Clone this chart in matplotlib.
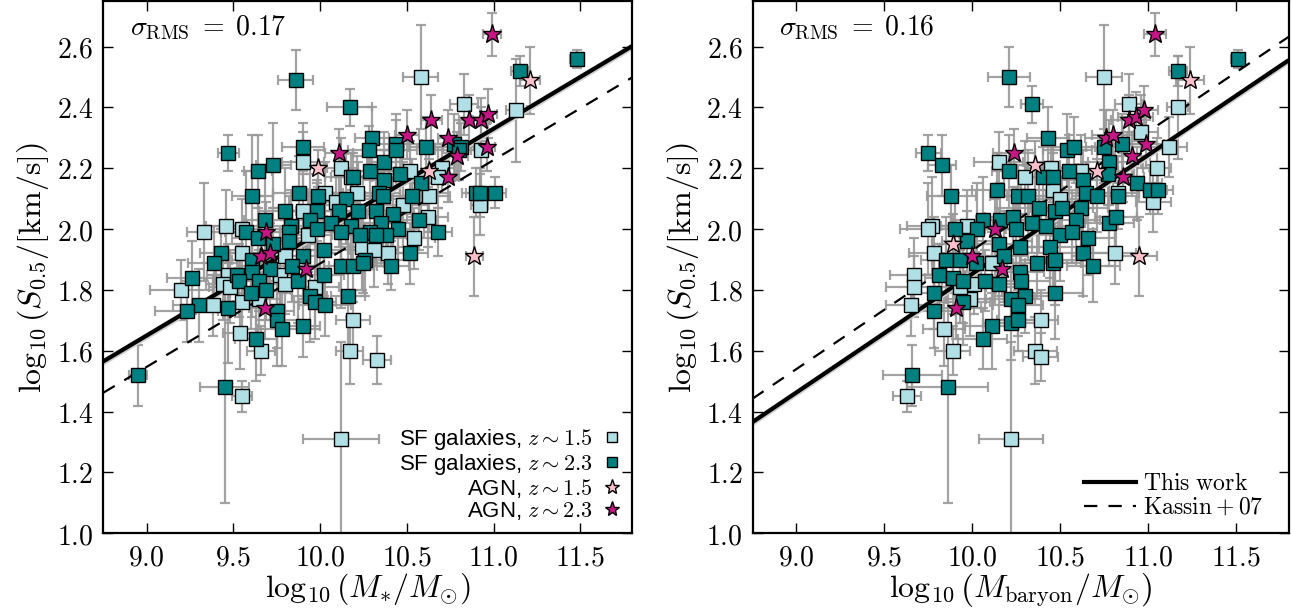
import matplotlib
matplotlib.use("Agg")
import matplotlib.pyplot as plt
from matplotlib.ticker import FuncFormatter, MultipleLocator
from matplotlib.lines import Line2D
import numpy as np

plt.rcParams['mathtext.fontset'] = 'cm'
plt.rcParams['font.family'] = ['DejaVu Sans']

# ---------------- Left panel: stellar mass ----------------
L_sf23_x = [9.86, 10.17, 9.47, 9.90, 9.73, 9.64, 10.30, 10.28, 10.29, 10.37, 10.44, 10.44, 10.61, 10.46, 10.37, 10.19, 10.58, 10.77, 10.81, 10.80,
            10.90, 10.92, 11.01, 11.15, 11.48, 9.61, 9.88, 9.99, 10.15, 10.34, 10.36, 10.53, 9.80, 9.98, 10.11, 10.22, 10.32, 10.42, 10.57, 9.68,
            9.83, 9.94, 10.06, 10.18, 10.35, 10.45, 10.68, 9.57, 9.82, 9.98, 10.12, 10.29, 10.38, 9.64, 9.73, 9.82, 10.02, 10.23, 10.32, 9.43,
            9.39, 9.61, 9.90, 10.26, 10.52, 9.71, 9.84, 10.02, 10.12, 10.19, 10.25, 10.41, 9.26, 9.52, 9.61, 9.53, 9.65, 9.87, 9.60, 9.69,
            9.94, 9.97, 10.03, 10.16, 9.30, 9.23, 9.47, 9.75, 9.75, 9.78, 9.90, 9.63, 8.95, 9.45]
L_sf23_y = [2.49, 2.40, 2.25, 2.27, 2.21, 2.19, 2.30, 2.26, 2.19, 2.22, 2.28, 2.26, 2.27, 2.18, 2.16, 2.17, 2.15, 2.28, 2.27, 2.26,
            2.12, 2.12, 2.12, 2.52, 2.56, 2.11, 2.12, 2.11, 2.10, 2.12, 2.11, 2.11, 2.06, 2.06, 2.06, 2.06, 2.06, 2.05, 2.03, 2.03,
            2.01, 2.03, 2.02, 2.01, 2.02, 2.00, 1.99, 1.99, 1.99, 2.00, 1.99, 1.99, 1.98, 1.97, 1.95, 1.96, 1.93, 1.98, 1.98, 1.92,
            1.89, 1.90, 1.91, 1.90, 1.92, 1.87, 1.88, 1.85, 1.88, 1.88, 1.89, 1.88, 1.84, 1.85, 1.86, 1.83, 1.83, 1.83, 1.79, 1.80,
            1.78, 1.76, 1.75, 1.78, 1.75, 1.73, 1.74, 1.73, 1.70, 1.67, 1.68, 1.64, 1.52, 1.48]
L_sf23_xe = [0.10, 0.13, 0.06, 0.12, 0.10, 0.08, 0.10, 0.12, 0.14, 0.10, 0.15, 0.12, 0.10, 0.14, 0.12, 0.16, 0.10, 0.12, 0.10, 0.14,
             0.08, 0.08, 0.06, 0.05, 0.04, 0.12, 0.15, 0.14, 0.18, 0.12, 0.10, 0.12, 0.15, 0.12, 0.14, 0.10, 0.12, 0.15, 0.10, 0.12,
             0.14, 0.10, 0.12, 0.16, 0.10, 0.12, 0.08, 0.12, 0.10, 0.14, 0.12, 0.10, 0.12, 0.15, 0.12, 0.10, 0.14, 0.12, 0.10, 0.12,
             0.15, 0.12, 0.10, 0.14, 0.10, 0.12, 0.16, 0.12, 0.10, 0.14, 0.12, 0.10, 0.14, 0.12, 0.10, 0.15, 0.12, 0.10, 0.12, 0.14,
             0.10, 0.12, 0.15, 0.10, 0.15, 0.18, 0.12, 0.10, 0.12, 0.14, 0.10, 0.12, 0.05, 0.14]
L_sf23_ye = [0.10, 0.06, 0.06, 0.08, 0.14, 0.12, 0.10, 0.08, 0.12, 0.10, 0.08, 0.12, 0.10, 0.09, 0.10, 0.08, 0.12, 0.10, 0.08, 0.10,
             0.08, 0.08, 0.05, 0.05, 0.03, 0.20, 0.12, 0.10, 0.15, 0.10, 0.08, 0.12, 0.14, 0.10, 0.12, 0.16, 0.10, 0.12, 0.10, 0.18,
             0.12, 0.15, 0.10, 0.12, 0.14, 0.10, 0.08, 0.20, 0.12, 0.15, 0.10, 0.12, 0.08, 0.14, 0.12, 0.10, 0.15, 0.12, 0.10, 0.08,
             0.12, 0.10, 0.14, 0.12, 0.10, 0.15, 0.12, 0.10, 0.14, 0.12, 0.10, 0.08, 0.12, 0.10, 0.15, 0.12, 0.10, 0.14, 0.12, 0.10,
             0.15, 0.12, 0.10, 0.20, 0.12, 0.10, 0.18, 0.12, 0.15, 0.12, 0.10, 0.14, 0.10, 0.38]

L_sf15_x = [10.58, 10.83, 11.13, 9.90, 10.12, 10.18, 10.21, 10.03, 10.52, 10.70, 10.68, 10.63, 10.48, 10.92, 10.93, 10.09, 9.90, 10.62, 9.33, 9.46,
            9.55, 9.93, 10.54, 10.39, 10.24, 10.31, 9.55, 9.80, 9.77, 9.47, 9.44, 9.20, 9.48, 9.80, 9.97, 9.38, 9.55, 9.65, 9.54, 9.66,
            9.55, 10.19, 10.17, 10.33, 10.12]
L_sf15_y = [2.50, 2.41, 2.39, 2.22, 2.20, 2.17, 2.12, 2.12, 2.19, 2.20, 2.17, 2.11, 2.08, 2.08, 2.26, 2.09, 2.06, 2.04, 1.99, 2.01,
            2.00, 1.98, 1.97, 1.92, 1.94, 1.93, 1.92, 1.91, 1.85, 1.85, 1.82, 1.80, 1.81, 1.82, 1.81, 1.75, 1.76, 1.77, 1.66, 1.60,
            1.45, 1.70, 1.60, 1.57, 1.31]
L_sf15_xe = [0.10, 0.08, 0.06, 0.12, 0.10, 0.12, 0.14, 0.10, 0.12, 0.08, 0.10, 0.12, 0.14, 0.05, 0.06, 0.12, 0.10, 0.12, 0.10, 0.12,
             0.10, 0.14, 0.12, 0.10, 0.12, 0.14, 0.10, 0.12, 0.15, 0.12, 0.10, 0.18, 0.12, 0.10, 0.14, 0.12, 0.10, 0.12, 0.10, 0.08,
             0.06, 0.10, 0.08, 0.08, 0.22]
L_sf15_ye = [0.17, 0.10, 0.17, 0.10, 0.10, 0.08, 0.12, 0.10, 0.10, 0.08, 0.10, 0.12, 0.14, 0.10, 0.14, 0.10, 0.12, 0.10, 0.16, 0.12,
             0.10, 0.12, 0.10, 0.10, 0.14, 0.12, 0.10, 0.12, 0.15, 0.10, 0.12, 0.10, 0.12, 0.10, 0.14, 0.10, 0.12, 0.10, 0.12, 0.08,
             0.05, 0.10, 0.11, 0.08, 0.32]

L_agn15_x = [11.21, 9.99, 10.63, 10.89]
L_agn15_y = [2.49, 2.20, 2.19, 1.91]
L_agn15_xe = [0.06, 0.05, 0.08, 0.05]
L_agn15_ye = [0.11, 0.06, 0.08, 0.13]

L_agn23_x = [10.99, 10.64, 10.86, 10.93, 10.97, 10.50, 10.74, 10.96, 10.79, 10.11, 10.74, 9.69, 9.66, 9.71, 9.92, 9.68]
L_agn23_y = [2.64, 2.36, 2.36, 2.36, 2.38, 2.31, 2.30, 2.27, 2.24, 2.25, 2.17, 1.99, 1.91, 1.92, 1.87, 1.74]
L_agn23_xe = [0.05, 0.06, 0.06, 0.05, 0.05, 0.07, 0.06, 0.05, 0.06, 0.08, 0.06, 0.08, 0.08, 0.07, 0.08, 0.08]
L_agn23_ye = [0.07, 0.08, 0.08, 0.07, 0.08, 0.08, 0.09, 0.08, 0.08, 0.08, 0.08, 0.10, 0.10, 0.09, 0.10, 0.10]

# ---------------- Right panel: baryonic mass ----------------
R_sf23_x = [10.21, 10.34, 9.75, 9.83, 9.88, 10.43, 10.54, 10.58, 10.21, 10.40, 10.46, 10.55, 10.63, 10.78, 10.77, 10.75, 10.85, 10.94, 11.01, 11.06,
            11.17, 11.51, 10.14, 10.26, 10.32, 10.65, 10.71, 10.83, 10.06, 10.16, 10.23, 10.38, 10.47, 10.51, 10.62, 10.59, 10.03, 9.97, 9.90, 10.25,
            10.34, 10.42, 10.50, 10.57, 10.66, 10.78, 10.82, 10.27, 10.15, 10.44, 10.63, 10.37, 10.46, 10.47, 10.69, 9.85, 9.93, 10.02, 10.18, 9.81,
            9.89, 9.95, 10.07, 10.15, 10.27, 10.28, 9.78, 9.95, 10.22, 10.30, 10.47, 10.26, 9.78, 10.11, 10.06, 10.22, 10.26, 9.66, 9.86]
R_sf23_y = [2.50, 2.41, 2.25, 2.21, 2.11, 2.30, 2.26, 2.27, 2.19, 2.17, 2.17, 2.19, 2.16, 2.22, 2.18, 2.27, 2.28, 2.15, 2.13, 2.13,
            2.52, 2.56, 2.13, 2.11, 2.11, 2.12, 2.11, 2.11, 2.03, 2.03, 2.04, 2.07, 2.06, 2.07, 2.07, 2.03, 2.00, 1.96, 2.00, 2.00,
            2.02, 2.01, 1.98, 1.99, 1.97, 2.02, 2.04, 1.94, 1.95, 1.94, 1.92, 1.89, 1.89, 1.90, 1.88, 1.90, 1.90, 1.89, 1.91, 1.85,
            1.84, 1.83, 1.83, 1.82, 1.86, 1.83, 1.79, 1.76, 1.77, 1.78, 1.79, 1.75, 1.73, 1.68, 1.64, 1.69, 1.70, 1.52, 1.48]
R_sf23_xe = [0.12, 0.06, 0.07, 0.08, 0.14, 0.12, 0.14, 0.12, 0.10, 0.14, 0.12, 0.16, 0.14, 0.12, 0.15, 0.10, 0.12, 0.14, 0.10, 0.08,
             0.05, 0.04, 0.14, 0.16, 0.12, 0.15, 0.14, 0.12, 0.18, 0.14, 0.16, 0.14, 0.12, 0.18, 0.15, 0.14, 0.16, 0.14, 0.12, 0.18,
             0.15, 0.14, 0.16, 0.12, 0.15, 0.14, 0.12, 0.16, 0.14, 0.18, 0.15, 0.14, 0.16, 0.12, 0.15, 0.14, 0.16, 0.18, 0.14, 0.15,
             0.16, 0.14, 0.18, 0.15, 0.14, 0.16, 0.12, 0.15, 0.14, 0.18, 0.16, 0.14, 0.12, 0.15, 0.14, 0.16, 0.12, 0.17, 0.23]
R_sf23_ye = [0.10, 0.06, 0.06, 0.10, 0.10, 0.10, 0.12, 0.10, 0.12, 0.10, 0.08, 0.12, 0.10, 0.14, 0.10, 0.12, 0.10, 0.12, 0.08, 0.08,
             0.05, 0.03, 0.12, 0.10, 0.15, 0.10, 0.12, 0.08, 0.14, 0.12, 0.10, 0.15, 0.12, 0.10, 0.14, 0.12, 0.15, 0.10, 0.12, 0.14,
             0.10, 0.12, 0.15, 0.10, 0.12, 0.14, 0.10, 0.15, 0.12, 0.10, 0.14, 0.12, 0.10, 0.15, 0.12, 0.14, 0.10, 0.12, 0.15, 0.10,
             0.12, 0.14, 0.10, 0.12, 0.15, 0.10, 0.12, 0.14, 0.10, 0.12, 0.15, 0.10, 0.12, 0.14, 0.10, 0.12, 0.10, 0.10, 0.38]

R_sf15_x = [10.75, 10.89, 11.17, 10.96, 11.12, 11.05, 11.03, 10.15, 10.30, 10.45, 10.46, 10.62, 10.50, 10.83, 9.77, 9.75, 9.97, 9.78, 10.11, 10.81,
            9.67, 9.67, 9.65, 9.84, 9.89, 10.39, 10.36, 10.39, 9.63, 10.22, 9.99, 10.01, 9.93]
R_sf15_y = [2.50, 2.41, 2.40, 2.32, 2.27, 2.20, 2.09, 2.22, 2.17, 2.20, 2.13, 2.19, 2.10, 2.12, 2.01, 2.00, 2.01, 1.92, 1.89, 1.92,
            1.85, 1.81, 1.75, 1.67, 1.60, 1.70, 1.60, 1.58, 1.45, 1.31, 1.77, 1.82, 1.81]
R_sf15_xe = [0.10, 0.08, 0.06, 0.10, 0.10, 0.08, 0.10, 0.14, 0.12, 0.15, 0.14, 0.12, 0.15, 0.12, 0.14, 0.16, 0.15, 0.14, 0.16, 0.12,
             0.14, 0.16, 0.14, 0.12, 0.10, 0.10, 0.12, 0.10, 0.08, 0.18, 0.14, 0.16, 0.15]
R_sf15_ye = [0.17, 0.10, 0.17, 0.12, 0.10, 0.10, 0.10, 0.10, 0.12, 0.10, 0.14, 0.12, 0.10, 0.12, 0.16, 0.15, 0.12, 0.12, 0.10, 0.10,
             0.12, 0.10, 0.10, 0.12, 0.08, 0.10, 0.11, 0.08, 0.05, 0.32, 0.12, 0.10, 0.12]

R_agn15_x = [11.24, 9.89, 10.36, 10.71, 10.95]
R_agn15_y = [2.49, 1.95, 2.21, 2.19, 1.91]
R_agn15_xe = [0.08, 0.12, 0.14, 0.12, 0.10]
R_agn15_ye = [0.11, 0.10, 0.08, 0.08, 0.13]

R_agn23_x = [11.04, 10.89, 10.93, 10.98, 10.76, 10.80, 10.99, 10.91, 10.86, 10.24, 10.13, 10.00, 10.17, 9.91]
R_agn23_y = [2.64, 2.36, 2.37, 2.39, 2.30, 2.31, 2.28, 2.24, 2.17, 2.25, 2.00, 1.91, 1.87, 1.74]
R_agn23_xe = [0.06, 0.10, 0.10, 0.08, 0.12, 0.12, 0.10, 0.10, 0.12, 0.12, 0.14, 0.14, 0.12, 0.14]
R_agn23_ye = [0.07, 0.08, 0.08, 0.08, 0.09, 0.08, 0.08, 0.08, 0.08, 0.08, 0.10, 0.10, 0.09, 0.10]

# Relations: slope, value at log M = 10
left_fit = (0.34, 1.99)
left_kassin = (0.34, 1.887)
right_fit = (0.39, 1.853)
right_kassin = (0.39, 1.93)
sigma_rms = ["0.17", "0.16"]

XLIM = (8.75, 11.8)
YLIM = (1.0, 2.75)

C_SF15 = '#b0e0e6'
C_SF23 = '#008080'
C_AGN15 = '#ffc0cb'
C_AGN23 = '#c71585'
C_ERR = '#999999'

fig = plt.figure(figsize=(12.91, 6.11), dpi=100)
axL = fig.add_axes([0.0800, 0.1272, 0.4098, 0.8712])
axR = fig.add_axes([0.5829, 0.1272, 0.4152, 0.8712])

fmt = FuncFormatter(lambda v, p: r'$%.1f$' % v)


def panel(ax, groups, fit, kassin, sig, xlabel):
    for (x, y, xe, ye, c, m, ms) in groups:
        ax.errorbar(x, y, xerr=xe, yerr=ye, fmt='none', ecolor=C_ERR, elinewidth=1.6,
                    capsize=3.5, capthick=1.6, alpha=0.9, zorder=1)
    xx = np.array(XLIM)
    ax.fill_between(xx, fit[0] * (xx - 10) + fit[1] - 0.012, fit[0] * (xx - 10) + fit[1] + 0.012,
                    color='#d0d0d0', lw=0, zorder=1.5)
    ax.plot(xx, fit[0] * (xx - 10) + fit[1], color='black', lw=3.0, zorder=2, solid_capstyle='butt')
    ax.plot(xx, kassin[0] * (xx - 10) + kassin[1], color='black', lw=1.6, ls=(0, (6, 5)), zorder=2)
    for (x, y, xe, ye, c, m, ms) in groups:
        ax.plot(x, y, ls='none', marker=m, ms=ms, mfc=c, mec='black', mew=1.0, zorder=3)
    ax.set_xlim(*XLIM)
    ax.set_ylim(*YLIM)
    ax.xaxis.set_major_locator(MultipleLocator(0.5))
    ax.yaxis.set_major_locator(MultipleLocator(0.2))
    ax.xaxis.set_major_formatter(fmt)
    ax.yaxis.set_major_formatter(fmt)
    ax.tick_params(direction='in', top=True, right=True, length=7, width=1.0, labelsize=20, pad=7)
    for s in ax.spines.values():
        s.set_linewidth(1.6)
    ax.set_xlabel(xlabel, fontsize=23, labelpad=0)
    ax.set_ylabel(r'$\log_{10}\left(S_{0.5}/[\mathrm{km/s}]\right)$', fontsize=23, labelpad=4)
    ax.text(0.05, 0.975, r'$\sigma_{\rm RMS}\;=\;%s$' % sig, transform=ax.transAxes,
            fontsize=20, va='top', ha='left')


panel(axL,
      [(L_sf15_x, L_sf15_y, L_sf15_xe, L_sf15_ye, C_SF15, 's', 9.5),
       (L_sf23_x, L_sf23_y, L_sf23_xe, L_sf23_ye, C_SF23, 's', 9.5),
       (L_agn15_x, L_agn15_y, L_agn15_xe, L_agn15_ye, C_AGN15, '*', 14),
       (L_agn23_x, L_agn23_y, L_agn23_xe, L_agn23_ye, C_AGN23, '*', 14)],
      left_fit, left_kassin, sigma_rms[0], r'$\log_{10}\left(M_{*}/M_{\odot}\right)$')

panel(axR,
      [(R_sf15_x, R_sf15_y, R_sf15_xe, R_sf15_ye, C_SF15, 's', 9.5),
       (R_sf23_x, R_sf23_y, R_sf23_xe, R_sf23_ye, C_SF23, 's', 9.5),
       (R_agn15_x, R_agn15_y, R_agn15_xe, R_agn15_ye, C_AGN15, '*', 14),
       (R_agn23_x, R_agn23_y, R_agn23_xe, R_agn23_ye, C_AGN23, '*', 14)],
      right_fit, right_kassin, sigma_rms[1], r'$\log_{10}\left(M_{\mathrm{baryon}}/M_{\odot}\right)$')

# Legends
hL = [Line2D([], [], ls='none', marker='s', ms=7, mfc=C_SF15, mec='black', mew=1.0),
      Line2D([], [], ls='none', marker='s', ms=7, mfc=C_SF23, mec='black', mew=1.0),
      Line2D([], [], ls='none', marker='*', ms=11, mfc=C_AGN15, mec='black', mew=1.0),
      Line2D([], [], ls='none', marker='*', ms=11, mfc=C_AGN23, mec='black', mew=1.0)]
labL = [r'SF galaxies, $z\sim1.5$', r'SF galaxies, $z\sim2.3$', r'AGN, $z\sim1.5$', r'AGN, $z\sim2.3$']
legL = axL.legend(hL, labL, loc='lower right', markerfirst=False, frameon=False,
                  prop={'family': 'Liberation Sans', 'size': 16}, handlelength=0.8,
                  handletextpad=0.5, labelspacing=0.0, borderaxespad=0.1,
                  bbox_to_anchor=(1.0, 0.0))

hR = [Line2D([], [], color='black', lw=3.0), Line2D([], [], color='black', lw=1.6, ls=(0, (6, 5)))]
labR = [r'$\mathrm{This\ work}$', r'$\mathrm{Kassin+07}$']
axR.legend(hR, labR, loc='lower right', frameon=False, fontsize=17, handlelength=2.2,
           handletextpad=0.3, labelspacing=0.0, borderaxespad=0.2,
           bbox_to_anchor=(0.98, 0.0))

fig.savefig('out.png', dpi=100)
